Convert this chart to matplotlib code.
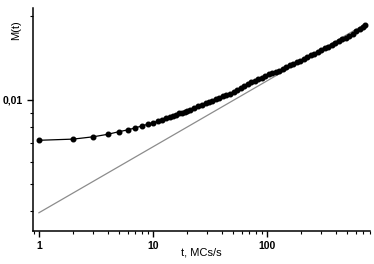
import matplotlib
matplotlib.use('Agg')
import matplotlib.pyplot as plt
from matplotlib.ticker import LogLocator, FixedLocator, FixedFormatter, NullFormatter

plt.rcParams['font.family'] = ['Liberation Sans', 'DejaVu Sans']

# M(t)
t = [1, 2, 3, 4, 5, 6, 7, 8, 9, 10, 11, 12, 13, 14, 15, 16, 17, 18, 19, 20,
     21, 23, 25, 27, 29, 31, 33, 36, 38, 41, 44, 47, 51, 55, 59, 63, 68, 73, 78,
     84, 90, 97, 104, 111, 120, 128, 138, 148, 159, 170, 183, 196, 210, 226,
     242, 260, 279, 300, 322, 345, 370, 397, 426, 457, 490, 526, 564, 605,
     650, 690, 720]
m = [0.00717, 0.00724, 0.00738, 0.00753, 0.00769, 0.00781, 0.00794, 0.00807,
     0.00818, 0.00828, 0.00838, 0.00848, 0.00859, 0.00868, 0.00877, 0.00885,
     0.00894, 0.00900, 0.00907, 0.00914,
     0.00920, 0.00936, 0.00950, 0.00962, 0.00972, 0.00980, 0.00991, 0.01007,
     0.01017, 0.01029, 0.01039, 0.01050, 0.01068, 0.01087, 0.01104, 0.01120,
     0.01139, 0.01156, 0.01170, 0.01187, 0.01201, 0.01218, 0.01233, 0.01247,
     0.01260, 0.01271, 0.01291, 0.01312, 0.01334, 0.01348, 0.01365, 0.01379,
     0.01399, 0.01421, 0.01441, 0.01461, 0.01483, 0.01505, 0.01526, 0.01548,
     0.01571, 0.01596, 0.01620, 0.01644, 0.01668, 0.01694, 0.01721, 0.01757,
     0.01793, 0.01823, 0.01846]

# power-law guide line
fit_t = [1, 720]
fit_m = [0.00395, 0.0186]

fig = plt.figure(figsize=(3.74, 2.64), dpi=100)
ax = fig.add_axes([0.088, 0.125, 0.901, 0.845])

ax.plot(fit_t, fit_m, color='#8c8c8c', lw=0.9)
ax.plot(t, m, '-o', color='black', lw=0.9, ms=3.3, mec='black', mfc='black')

ax.set_xscale('log')
ax.set_yscale('log')
ax.set_xlim(0.886, 800)
ax.set_ylim(0.0034, 0.0213)

for s in ['top', 'right']:
    ax.spines[s].set_visible(False)
for s in ['left', 'bottom']:
    ax.spines[s].set_linewidth(1.1)

ax.xaxis.set_major_locator(FixedLocator([1, 10, 100]))
ax.xaxis.set_major_formatter(FixedFormatter(['1', '10', '100']))
ax.xaxis.set_minor_locator(LogLocator(base=10, subs=range(2, 10)))
ax.xaxis.set_minor_formatter(NullFormatter())

ax.yaxis.set_major_locator(FixedLocator([0.01]))
ax.yaxis.set_major_formatter(FixedFormatter(['0,01']))
ax.yaxis.set_minor_locator(FixedLocator([0.004, 0.005, 0.006, 0.007, 0.008, 0.009, 0.02]))
ax.yaxis.set_minor_formatter(NullFormatter())

ax.tick_params(which='major', length=4, width=1, labelsize=7.5, pad=3)
ax.tick_params(which='minor', length=2.5, width=0.8)
for lab in ax.get_xticklabels() + ax.get_yticklabels():
    lab.set_fontweight('bold')

ax.set_xlabel('t, MCs/s', fontsize=8, labelpad=-2)
ax.set_ylabel('M(t)', fontsize=8)
ax.yaxis.set_label_coords(-0.035, 0.9)

fig.savefig('out.png', dpi=100)
